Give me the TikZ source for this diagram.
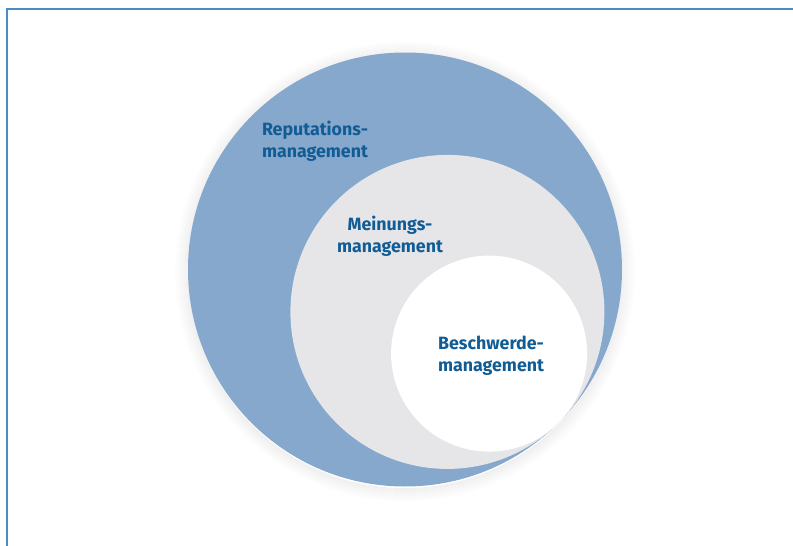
\documentclass[tikz,border=0pt]{standalone}
\usepackage{fontspec}
\setmainfont{Fira Sans}
\definecolor{framec}{RGB}{74,140,200}
\definecolor{bigc}{RGB}{133,168,204}
\definecolor{midc}{RGB}{230,230,233}
\definecolor{txtc}{RGB}{18,92,150}
\begin{document}
\begin{tikzpicture}[x=1pt,y=-1pt,
  lbl/.style={font=\fontsize{17.8}{22}\selectfont\bfseries, text=txtc, align=center, inner sep=0pt}]
\useasboundingbox (0,0) rectangle (793,546);
\fill[white] (0,0) rectangle (793,546);
% frame (top and left only)
\draw[framec, line width=2pt] (7,546) -- (7,8.5) -- (793,8.5);
% soft glow around the big circle
\foreach \i in {1,...,14}{
  \pgfmathsetmacro{\op}{0.06*(1-\i/15)}
  \draw[black, opacity=\op, line width=1pt] (405,271.5) circle[radius=216+\i];
}
% circles, tangent at lower right
\fill[bigc] (405,269.5) circle[radius=217];
\fill[midc] (447.4,311.9) circle[radius=157];
\fill[white] (489.1,353.6) circle[radius=98];
% labels
\node[lbl] (rep) at (315,141) {Reputations-\\management};
\node[lbl] (mei) at (390,236) {Meinungs-\\management};
\node[lbl] (bes) at (491,356) {Beschwerde-\\management};
\end{tikzpicture}
\end{document}
